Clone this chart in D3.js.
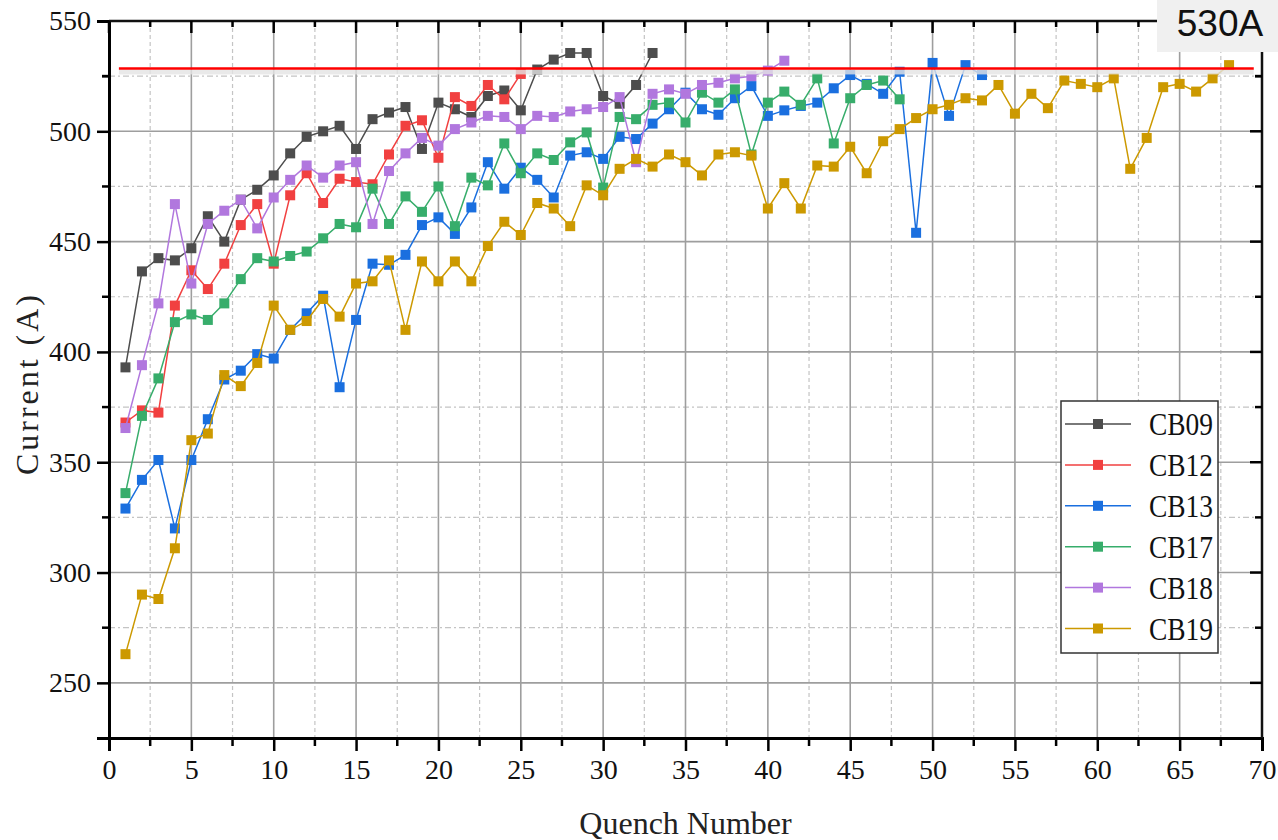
<!DOCTYPE html>
<html>
<head>
<meta charset="utf-8">
<script src="https://d3js.org/d3.v7.min.js"></script>
<style>
  body { margin: 0; background: #fff; }
  text { font-family: "Liberation Serif", "DejaVu Serif", serif; }
</style>
</head>
<body>
<svg id="chart" width="1278" height="840"></svg>
<script>
// data, quench numbers start at 1
var seriesNames = ["CB09", "CB12", "CB13", "CB17", "CB18", "CB19"];
var seriesColors = ["#4d4d4d", "#f14040", "#1a6fdf", "#37ad6b", "#b177de", "#cc9900"];

var cb09 = [393, 436.5, 442.5, 441.5, 447, 461.5, 450, 469, 473.5, 480, 490, 497.5, 500, 502.5, 492, 505.5, 508.5, 511, 492, 513,
            510, 506.5, 516, 518.5, 509.5, 528, 532.5, 535.5, 535.5, 516, 512.5, 521, 535.5];
var cb12 = [368, 373.5, 372.5, 421, 437, 428.5, 440, 457.5, 467, 440, 471, 481, 467.5, 478.5, 477, 476, 489.5, 502.5, 505, 488,
            515.5, 511.5, 521, 514.5, 526];
var cb13 = [329, 342, 351, 320, 351, 369.5, 387.5, 391.5, 399, 397, 410, 417.5, 425.5, 384, 414.5, 440, 439.5, 444, 457.5, 461,
            453.5, 465.5, 486, 474, 483.5, 478, 470, 489, 490.5, 487.5, 497.5, 496.5, 503.5, 510, 517.5, 510, 507.5, 515, 520.5, 507,
            509.5, 511.5, 513, 519.5, 525.5, 521.5, 517, 527, 454, 531, 507, 530, 525.5];
var cb17 = [336, 371, 388, 413.5, 417, 414.5, 422, 433, 442.5, 441, 443.5, 445.5, 451.5, 458, 456.5, 474, 458, 470.5, 463.5, 475,
            457, 479, 475.5, 494.5, 481, 490, 487, 495, 499.5, 474.5, 506.5, 505.5, 512, 513, 504, 517.5, 513, 519, 489.5, 513,
            518, 512, 524, 494.5, 515, 521, 523, 514.5];
var cb18 = [365.5, 394, 422, 467, 431, 458, 464, 469, 456, 470, 478, 484.5, 479, 484.5, 486, 458, 482, 490, 497, 493.5,
            501, 504, 507, 506.5, 501, 507, 506.5, 509, 510, 511, 515.5, 486, 517, 519, 517, 521, 522, 524, 525, 527.5, 532];
var cb19 = [263, 290, 288, 311, 360, 363, 389.5, 384.5, 395, 421, 410, 414, 424, 416, 431, 432, 441.5, 410, 441, 432,
            441, 432, 448, 459, 453, 467.5, 465, 457, 475.5, 471, 483, 487.5, 484, 489.5, 486, 480, 489.5, 490.5, 489, 465,
            476.5, 465, 484.5, 484, 493, 481, 495.5, 501, 506, 510, 512, 515, 514, 521, 508, 517, 510.5, 523, 521.5, 520,
            524, 483, 497, 520, 521.5, 518, 524, 530];
var seriesValues = [cb09, cb12, cb13, cb17, cb18, cb19];

var xTicks = [0, 5, 10, 15, 20, 25, 30, 35, 40, 45, 50, 55, 60, 65, 70];
var yTicks = [250, 300, 350, 400, 450, 500, 550];
var limitValue = 528.5;   // the red line
var limitLabel = "530A";

var plotL = 109, plotR = 1262, plotT = 21, plotB = 738;
var svg = d3.select("#chart");

var x = d3.scaleLinear().domain([0, 70]).range([plotL, plotR]);
var y = d3.scaleLinear().domain([225, 550]).range([plotB, plotT]);

// grid
var xMinor = d3.range(2.5, 70, 5);
var yMinor = d3.range(275, 550, 50);
var grid = svg.append("g");
grid.selectAll(".vminor").data(xMinor).enter().append("line")
  .attr("x1", function(d) { return x(d); }).attr("x2", function(d) { return x(d); })
  .attr("y1", plotT).attr("y2", plotB)
  .attr("stroke", "#c4c4c4").attr("stroke-width", 1.2).attr("stroke-dasharray", "4,3");
grid.selectAll(".hminor").data(yMinor).enter().append("line")
  .attr("x1", plotL).attr("x2", plotR)
  .attr("y1", function(d) { return y(d); }).attr("y2", function(d) { return y(d); })
  .attr("stroke", "#c4c4c4").attr("stroke-width", 1.2).attr("stroke-dasharray", "6,3,2,3");
grid.selectAll(".vmajor").data(xTicks.slice(1, -1)).enter().append("line")
  .attr("x1", function(d) { return x(d); }).attr("x2", function(d) { return x(d); })
  .attr("y1", plotT).attr("y2", plotB)
  .attr("stroke", "#9e9e9e").attr("stroke-width", 1.6);
grid.selectAll(".hmajor").data(yTicks.slice(0, -1)).enter().append("line")
  .attr("x1", plotL).attr("x2", plotR)
  .attr("y1", function(d) { return y(d); }).attr("y2", function(d) { return y(d); })
  .attr("stroke", "#9e9e9e").attr("stroke-width", 1.6);

// series
var line = d3.line()
  .x(function(d, i) { return x(i + 1); })
  .y(function(d) { return y(d); });

for (var s = 0; s < seriesValues.length; s++) {
  var g = svg.append("g");
  g.append("path")
    .datum(seriesValues[s])
    .attr("d", line)
    .attr("fill", "none")
    .attr("stroke", seriesColors[s])
    .attr("stroke-width", 1.5);
  g.selectAll("rect").data(seriesValues[s]).enter().append("rect")
    .attr("x", function(d, i) { return x(i + 1) - 5; })
    .attr("y", function(d) { return y(d) - 5; })
    .attr("width", 10).attr("height", 10)
    .attr("fill", seriesColors[s]);
}

// red limit line with its light shadow
svg.append("rect")
  .attr("x", x(0.6)).attr("y", y(limitValue) + 1)
  .attr("width", x(69.5) - x(0.6)).attr("height", 5)
  .attr("fill", "#e4e4e4").attr("opacity", 0.8);
svg.append("line")
  .attr("x1", x(0.6)).attr("x2", x(69.5))
  .attr("y1", y(limitValue)).attr("y2", y(limitValue))
  .attr("stroke", "#ff0000").attr("stroke-width", 2.5);

// axes
var xAxis = d3.axisBottom(x).tickValues(xTicks).tickSize(13).tickPadding(8);
var xAxisG = svg.append("g").attr("transform", "translate(0," + plotB + ")").call(xAxis);
var yAxis = d3.axisLeft(y).tickValues(yTicks).tickSize(12).tickPadding(6);
var yAxisG = svg.append("g").attr("transform", "translate(" + plotL + ",0)").call(yAxis);
[xAxisG, yAxisG].forEach(function(a) {
  a.select(".domain").attr("stroke", "#000").attr("stroke-width", 3);
  a.selectAll(".tick line").attr("stroke", "#000").attr("stroke-width", 2.5);
  a.selectAll(".tick text").attr("font-family", "Liberation Serif").attr("font-size", 28).attr("fill", "#111");
});

// minor ticks and the inward ticks on top / right
var frame = svg.append("g");
frame.append("line").attr("x1", plotL).attr("x2", plotR).attr("y1", plotT).attr("y2", plotT)
  .attr("stroke", "#111").attr("stroke-width", 2.5);
frame.append("line").attr("x1", plotR).attr("x2", plotR).attr("y1", plotT).attr("y2", plotB)
  .attr("stroke", "#111").attr("stroke-width", 2.5);
xMinor.forEach(function(d) {
  frame.append("line").attr("x1", x(d)).attr("x2", x(d)).attr("y1", plotB).attr("y2", plotB + 8)
    .attr("stroke", "#000").attr("stroke-width", 2.5);
  frame.append("line").attr("x1", x(d)).attr("x2", x(d)).attr("y1", plotT).attr("y2", plotT + 6)
    .attr("stroke", "#000").attr("stroke-width", 2.5);
});
xTicks.forEach(function(d) {
  frame.append("line").attr("x1", x(d)).attr("x2", x(d)).attr("y1", plotT).attr("y2", plotT + 12)
    .attr("stroke", "#000").attr("stroke-width", 2.5);
});
yMinor.concat([525]).forEach(function(d) {
  frame.append("line").attr("x1", plotL - 7).attr("x2", plotL).attr("y1", y(d)).attr("y2", y(d))
    .attr("stroke", "#000").attr("stroke-width", 2.5);
  frame.append("line").attr("x1", plotR - 7).attr("x2", plotR).attr("y1", y(d)).attr("y2", y(d))
    .attr("stroke", "#000").attr("stroke-width", 2.5);
});
yTicks.forEach(function(d) {
  frame.append("line").attr("x1", plotR - 12).attr("x2", plotR).attr("y1", y(d)).attr("y2", y(d))
    .attr("stroke", "#000").attr("stroke-width", 2.5);
});

// axis titles
svg.append("text")
  .attr("x", (plotL + plotR) / 2).attr("y", 834)
  .attr("text-anchor", "middle").attr("font-size", 32).attr("fill", "#222")
  .text("Quench Number");
svg.append("text")
  .attr("transform", "translate(38,385) rotate(-90)")
  .attr("text-anchor", "middle").attr("font-size", 32).attr("fill", "#222")
  .attr("textLength", 180).attr("lengthAdjust", "spacing")
  .text("Current (A)");

// legend
var legend = svg.append("g");
legend.append("rect")
  .attr("x", 1061).attr("y", 401).attr("width", 157).attr("height", 252)
  .attr("fill", "#fff").attr("stroke", "#333").attr("stroke-width", 1.5);
seriesNames.forEach(function(name, i) {
  var ly = 424 + i * 40.9;
  legend.append("line").attr("x1", 1065).attr("x2", 1131).attr("y1", ly).attr("y2", ly)
    .attr("stroke", seriesColors[i]).attr("stroke-width", 1.5);
  legend.append("rect").attr("x", 1093).attr("y", ly - 5).attr("width", 10).attr("height", 10)
    .attr("fill", seriesColors[i]);
  legend.append("text").attr("x", 1149).attr("y", ly + 11)
    .attr("font-size", 31).attr("fill", "#111")
    .attr("textLength", 64).attr("lengthAdjust", "spacingAndGlyphs")
    .text(name);
});

// 530A box top right
svg.append("rect").attr("x", 1157).attr("y", 0).attr("width", 121).attr("height", 52).attr("fill", "#f0f0f0");
svg.append("text")
  .attr("x", 1220).attr("y", 36).attr("text-anchor", "middle")
  .attr("font-size", 37).attr("fill", "#111")
  .style("font-family", "Liberation Sans, Arial, sans-serif")
  .text(limitLabel);
</script>
</body>
</html>
